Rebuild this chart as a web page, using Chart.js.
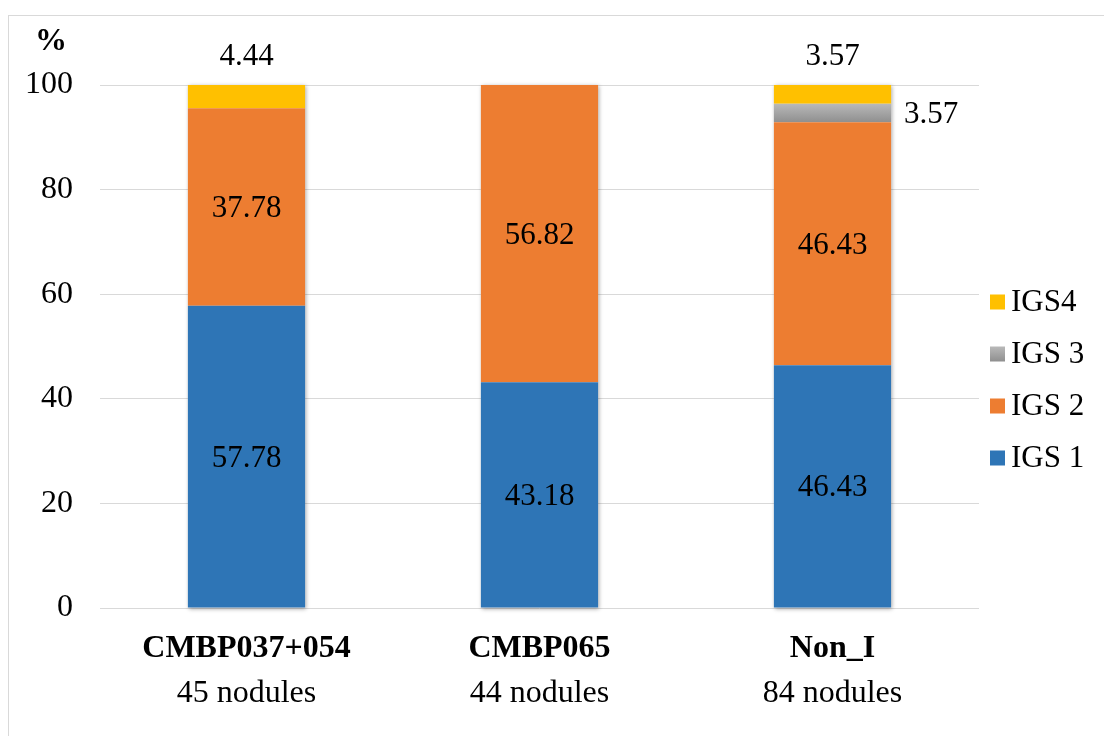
<!DOCTYPE html>
<html>
<head>
<meta charset="utf-8">
<script src="https://cdn.jsdelivr.net/npm/chart.js@4.4.1/dist/chart.umd.min.js"></script>
<style>
  html, body { margin: 0; padding: 0; background: #fff; overflow: hidden; }
  #frame { position: absolute; left: 8px; top: 15px; width: 1100px; height: 730px; border-left: 1px solid #d9d9d9; border-top: 1px solid #d9d9d9; }
  #wrap { position: absolute; left: 0; top: 0; width: 1104px; height: 736px; }
</style>
</head>
<body>
<div id="frame"></div>
<div id="wrap"><canvas id="chart" width="1104" height="736"></canvas></div>
<script>
const groups = ['CMBP037+054', 'CMBP065', 'Non_I'];
const nodules = ['45 nodules', '44 nodules', '84 nodules'];
const igs1 = [57.78, 43.18, 46.43];
const igs2 = [37.78, 56.82, 46.43];
const igs3 = [0, 0, 3.57];
const igs4 = [4.44, 0, 3.57];
const yTicks = [0, 20, 40, 60, 80, 100];

const FONT = '"Liberation Serif", "Times New Roman", serif';

function grayFill(context) {
    const chart = context.chart;
    const y = chart.scales.y;
    if (!y || !chart.chartArea) return '#a5a5a5';
    const top = y.getPixelForValue(igs1[2] + igs2[2] + igs3[2]);
    const bot = y.getPixelForValue(igs1[2] + igs2[2]);
    const g = chart.ctx.createLinearGradient(0, top, 0, bot);
    g.addColorStop(0, '#b9b9b9');
    g.addColorStop(1, '#8f8f8f');
    return g;
}

// shadow behind each full stacked bar
const barShadow = {
    id: 'barShadow',
    beforeDatasetsDraw(chart) {
        const ctx = chart.ctx;
        const metas = chart.data.datasets.map((d, i) => chart.getDatasetMeta(i));
        ctx.save();
        ctx.shadowColor = 'rgba(0,0,0,0.35)';
        ctx.shadowBlur = 4;
        ctx.shadowOffsetX = 1;
        ctx.shadowOffsetY = 1;
        ctx.fillStyle = '#fff';
        groups.forEach((g, i) => {
            const bottom = metas[0].data[i];
            let topY = bottom.y;
            metas.forEach(m => { if (m.data[i].y < topY) topY = m.data[i].y; });
            const w = bottom.width;
            ctx.fillRect(bottom.x - w / 2, topY, w, bottom.base - topY);
        });
        ctx.restore();
    }
};

// data labels, x labels, % mark and legend
const extras = {
    id: 'extras',
    afterDraw(chart) {
        const ctx = chart.ctx;
        const area = chart.chartArea;
        const xs = chart.scales.x;
        ctx.save();
        ctx.fillStyle = '#000';
        ctx.textBaseline = 'middle';

        chart.data.datasets.forEach((ds, di) => {
            const meta = chart.getDatasetMeta(di);
            meta.data.forEach((bar, i) => {
                const v = ds.data[i];
                if (!v) return;
                ctx.font = '31px ' + FONT;
                const txt = v.toFixed(2);
                if (di === 3) {
                    ctx.textAlign = 'center';
                    ctx.fillText(txt, bar.x, bar.y - 28);
                } else if (di === 2) {
                    ctx.textAlign = 'left';
                    ctx.fillText(txt, bar.x + bar.width / 2 + 13, (bar.y + bar.base) / 2 + 2);
                } else {
                    ctx.textAlign = 'center';
                    ctx.fillText(txt, bar.x, (bar.y + bar.base) / 2 + 2);
                }
            });
        });

        groups.forEach((g, i) => {
            const x = xs.getPixelForValue(i);
            ctx.textAlign = 'center';
            ctx.font = 'bold 32px ' + FONT;
            ctx.fillText(g, x, area.bottom + 41);
            ctx.font = '32px ' + FONT;
            ctx.fillText(nodules[i], x, area.bottom + 86);
        });

        ctx.font = 'bold 32px ' + FONT;
        ctx.textAlign = 'center';
        ctx.fillText('%', 51, 42);

        // legend, reversed order
        const items = chart.data.datasets.map((d, i) => i).reverse();
        ctx.font = '31px ' + FONT;
        ctx.textAlign = 'left';
        items.forEach((di, k) => {
            const ds = chart.data.datasets[di];
            const cy = 302 + k * 52;
            const bx = 990, bs = 15;
            if (di === 2) {
                const g = ctx.createLinearGradient(0, cy - bs / 2, 0, cy + bs / 2);
                g.addColorStop(0, '#b9b9b9');
                g.addColorStop(1, '#8f8f8f');
                ctx.fillStyle = g;
            } else {
                ctx.fillStyle = ds.backgroundColor;
            }
            ctx.fillRect(bx, cy - bs / 2, bs, bs);
            ctx.fillStyle = '#000';
            ctx.fillText(ds.label, bx + 21, cy + 1);
        });
        ctx.restore();
    }
};

new Chart(document.getElementById('chart'), {
    type: 'bar',
    data: {
        labels: groups,
        datasets: [
            { label: 'IGS 1', data: igs1, backgroundColor: '#2e75b6' },
            { label: 'IGS 2', data: igs2, backgroundColor: '#ed7d31' },
            { label: 'IGS 3', data: igs3, backgroundColor: grayFill },
            { label: 'IGS4', data: igs4, backgroundColor: '#ffc000' }
        ]
    },
    options: {
        responsive: false,
        animation: false,
        layout: { padding: { top: 85, right: 125, bottom: 0, left: 0 } },
        datasets: { bar: { categoryPercentage: 1, barPercentage: 0.4, borderWidth: 0 } },
        plugins: {
            legend: { display: false },
            tooltip: { enabled: false }
        },
        scales: {
            x: {
                stacked: true,
                grid: { display: false },
                border: { display: false },
                ticks: { display: false },
                afterFit: scale => { scale.height = 128; }
            },
            y: {
                stacked: true,
                min: 0,
                max: 100,
                afterBuildTicks: scale => { scale.ticks = yTicks.map(v => ({ value: v })); },
                grid: { color: '#d9d9d9', lineWidth: 1, drawTicks: false },
                border: { display: false },
                ticks: {
                    padding: 27,
                    color: '#000',
                    font: { family: FONT, size: 32 }
                },
                afterFit: scale => { scale.width = 100; }
            }
        }
    },
    plugins: [barShadow, extras]
});
</script>
</body>
</html>
